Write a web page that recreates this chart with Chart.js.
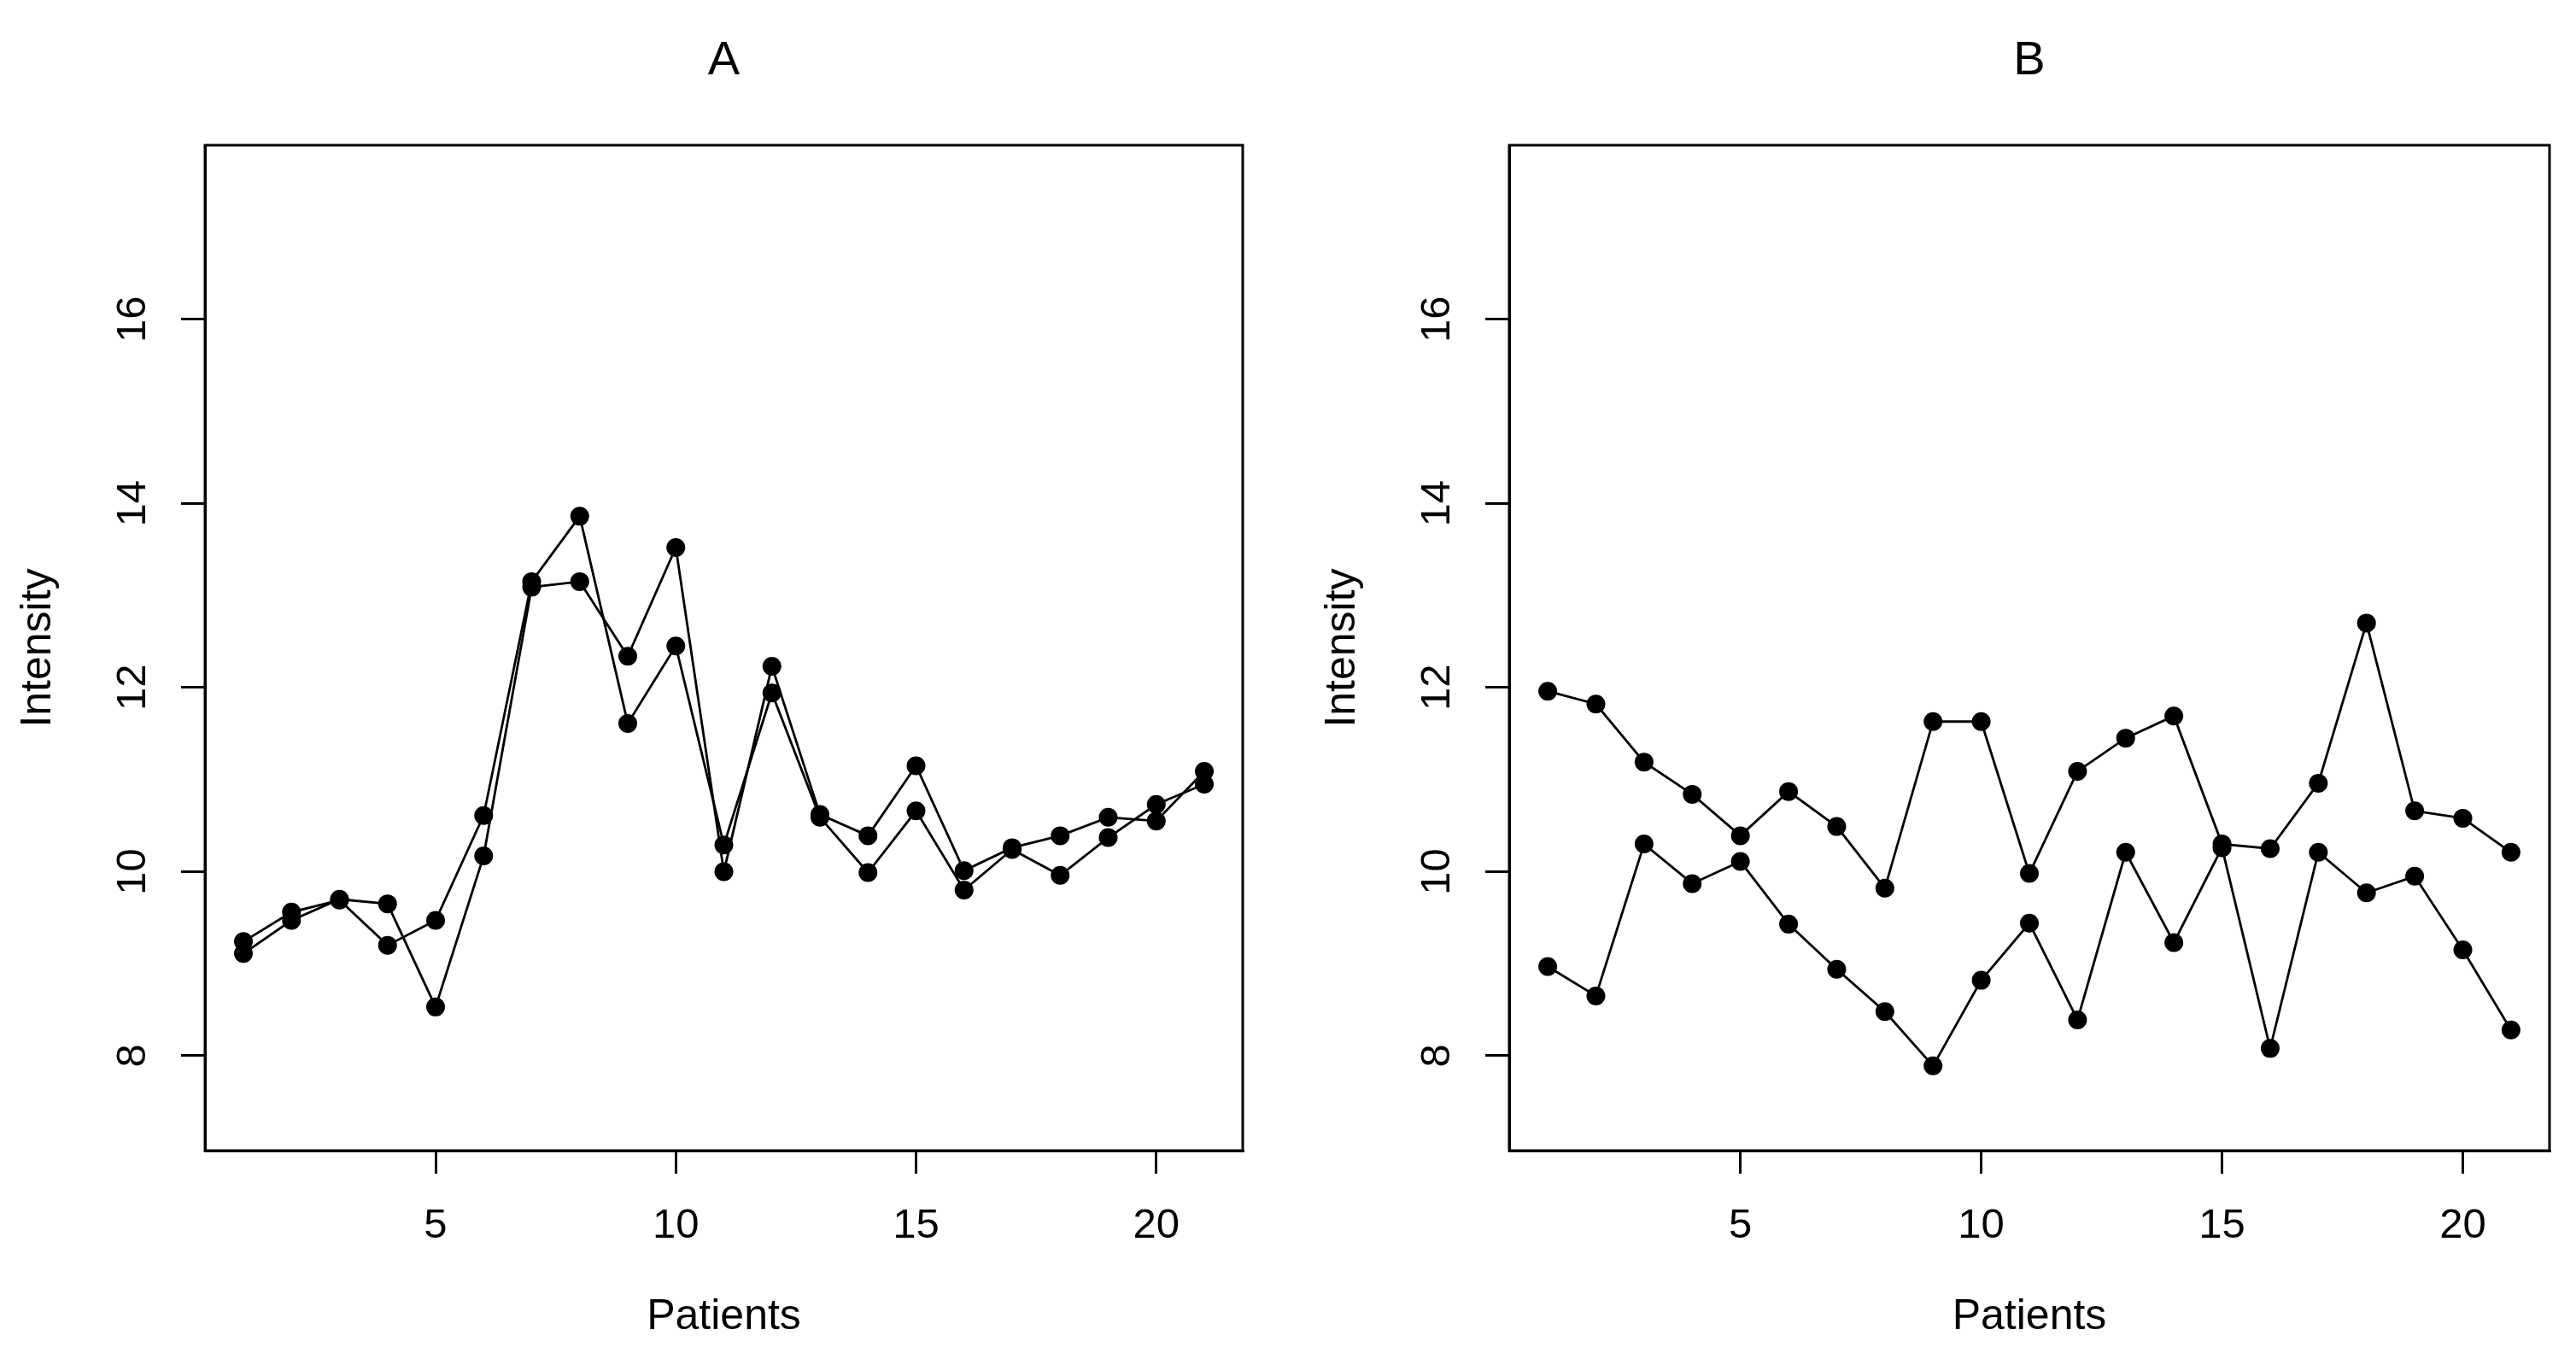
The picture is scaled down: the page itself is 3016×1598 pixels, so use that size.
<!DOCTYPE html>
<html>
<head>
<meta charset="utf-8">
<script src="https://cdn.jsdelivr.net/npm/chart.js@4.4.1/dist/chart.umd.min.js"></script>
<style>
  html, body { margin: 0; padding: 0; background: #ffffff; overflow: hidden; }
  body { width: 3016px; height: 1598px; position: relative; }
  .panel { position: absolute; top: 0; height: 1598px; width: 1508px; }
  #wrapA { left: 0; }
  #wrapB { left: 1508px; }
</style>
</head>
<body>
<div class="panel" id="wrapA"><canvas id="chartA"></canvas></div>
<div class="panel" id="wrapB"><canvas id="chartB"></canvas></div>
<script>
// ---- data ----
const patients = [1,2,3,4,5,6,7,8,9,10,11,12,13,14,15,16,17,18,19,20,21];
const panelTitles = ['A', 'B'];
const xTicks = [5, 10, 15, 20];
const yTicks = [8, 10, 12, 14, 16];
const xLabel = 'Patients';
const yLabel = 'Intensity';

const panelA_series1 = [9.11, 9.47, 9.70, 9.65, 8.53, 10.17, 13.09, 13.15, 12.34, 13.52, 10.00, 12.23, 10.62, 10.39, 11.15, 10.01, 10.26, 10.39, 10.59, 10.55, 11.09];
const panelA_series2 = [9.24, 9.56, 9.69, 9.20, 9.47, 10.61, 13.15, 13.86, 11.61, 12.45, 10.29, 11.94, 10.59, 9.99, 10.66, 9.80, 10.24, 9.96, 10.37, 10.73, 10.95];

const panelB_series1 = [11.96, 11.82, 11.19, 10.84, 10.39, 10.87, 10.49, 9.82, 11.63, 11.63, 9.98, 11.09, 11.45, 11.69, 10.30, 10.25, 10.96, 12.70, 10.66, 10.58, 10.21];
const panelB_series2 = [8.97, 8.65, 10.30, 9.87, 10.11, 9.43, 8.94, 8.48, 7.89, 8.82, 9.44, 8.39, 10.21, 9.23, 10.26, 8.08, 10.21, 9.77, 9.95, 9.15, 8.28];

const xRange = [0.2, 21.8];
const yRange = [6.97, 17.89];

// ---- chart setup ----
Chart.defaults.font.family = "'Liberation Sans', Arial, Helvetica, sans-serif";
Chart.defaults.color = '#000';

const boxPlugin = {
  id: 'plotBox',
  afterDraw(chart) {
    const a = chart.chartArea;
    const ctx = chart.ctx;
    ctx.save();
    ctx.strokeStyle = '#000';
    ctx.lineWidth = 3;
    ctx.strokeRect(a.left, a.top, a.right - a.left, a.bottom - a.top);
    ctx.restore();
  }
};

function toPoints(values) {
  return patients.map((p, i) => ({ x: p, y: values[i] }));
}

function makeDataset(values) {
  return {
    data: toPoints(values),
    borderColor: '#000',
    borderWidth: 2.8,
    backgroundColor: '#000',
    pointRadius: 11,
    pointBackgroundColor: '#000',
    pointBorderColor: '#000',
    pointBorderWidth: 0,
    tension: 0,
    fill: false
  };
}

function makeChart(canvasId, title, s1, s2, padLeft, padRight) {
  return new Chart(document.getElementById(canvasId), {
    type: 'line',
    data: { datasets: [makeDataset(s1), makeDataset(s2)] },
    plugins: [boxPlugin],
    options: {
      responsive: true,
      maintainAspectRatio: false,
      animation: false,
      events: [],
      layout: { padding: { left: padLeft, right: padRight, top: 0, bottom: 0 } },
      plugins: {
        legend: { display: false },
        tooltip: { enabled: false },
        title: {
          display: true,
          text: title,
          fullSize: false,
          color: '#000',
          font: { size: 56, weight: 'normal' },
          padding: { top: 38, bottom: 64.8 }
        }
      },
      scales: {
        x: {
          type: 'linear',
          min: xRange[0],
          max: xRange[1],
          afterBuildTicks(scale) { scale.ticks = xTicks.map(v => ({ value: v })); },
          afterFit(scale) { scale.height = 251; },
          grid: { drawOnChartArea: false, drawTicks: true, tickLength: 27, color: '#000', lineWidth: 3, tickWidth: 3 },
          border: { display: true, color: '#000', width: 3 },
          ticks: { autoSkip: false, font: { size: 49 }, padding: 32, color: '#000', maxRotation: 0, minRotation: 0 },
          title: { display: true, text: xLabel, color: '#000', font: { size: 50 }, padding: { top: 0, bottom: 26 } }
        },
        y: {
          type: 'linear',
          min: yRange[0],
          max: yRange[1],
          afterBuildTicks(scale) { scale.ticks = yTicks.map(v => ({ value: v })); },
          afterFit(scale) { scale.width = 240; },
          grid: { drawOnChartArea: false, drawTicks: true, tickLength: 28, color: '#000', lineWidth: 3, tickWidth: 3 },
          border: { display: true, color: '#000', width: 3 },
          ticks: { autoSkip: false, font: { size: 49 }, padding: 28, color: '#000', minRotation: 90, maxRotation: 90, crossAlign: 'center' },
          title: { display: true, text: yLabel, color: '#000', font: { size: 50 }, padding: { top: 15, bottom: 0 } }
        }
      }
    }
  });
}

makeChart('chartA', panelTitles[0], panelA_series1, panelA_series2, 0, 53);
makeChart('chartB', panelTitles[1], panelB_series1, panelB_series2, 19, 31);
</script>
</body>
</html>
